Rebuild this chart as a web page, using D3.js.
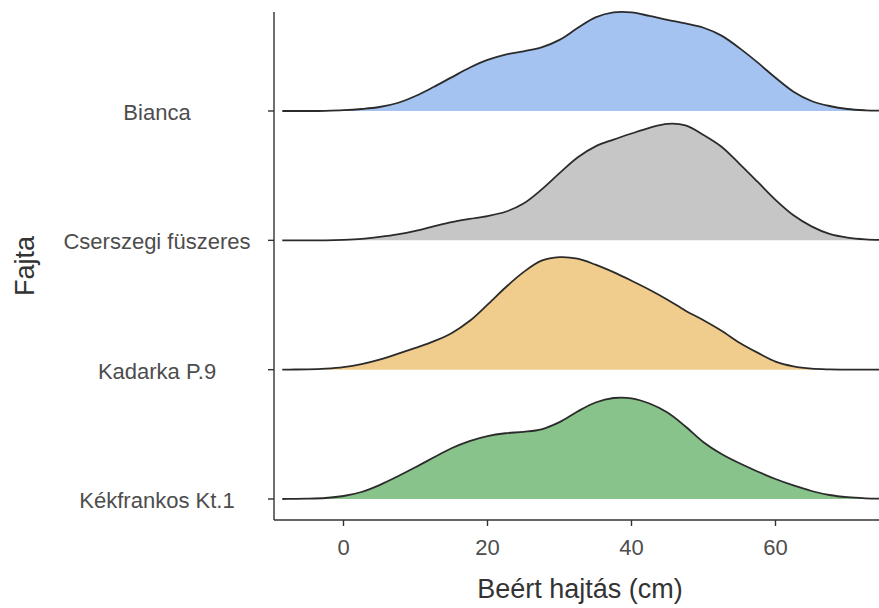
<!DOCTYPE html>
<html>
<head>
<meta charset="utf-8">
<script src="https://cdn.jsdelivr.net/npm/d3@7"></script>
<style>
  body { margin: 0; background: #fff; }
  text { font-family: "Liberation Sans", Arial, sans-serif; }
</style>
</head>
<body>
<svg id="chart"></svg>
<script>
// Fajták (felülről lefelé)
var cultivars = ["Bianca", "Cserszegi füszeres", "Kadarka P.9", "Kékfrankos Kt.1"];

// x rács (cm)
var xGrid = [-8.5, -7.5, -5, -2.5, 0, 2.5, 5, 7.5, 10, 12.5, 15, 17.5, 20, 22.5, 25, 27.5, 30,
  32.5, 35, 37.5, 40, 42.5, 45, 47.5, 50, 52.5, 55, 57.5, 60, 62.5, 65, 67.5, 70, 72.5, 75, 77.5, 80];

// sűrűség (x 0.001)
var densBianca = [0, 0, 0, 0.06, 0.22, 0.56, 1.12, 2.24, 4.2, 6.7, 9.4, 12.1, 14.3, 15.8, 16.7, 17.8, 19.9,
  23.2, 26.2, 27.6, 27.6, 26.6, 25.5, 24.5, 23.3, 21.1, 17.6, 13.6, 9.3, 5.4, 2.8, 1.4, 0.56, 0.2, 0.06, 0.02, 0];
var densCserszegi = [0, 0, 0, 0, 0.14, 0.42, 0.98, 1.68, 2.66, 3.9, 5.1, 6.0, 6.8, 8.0, 10.3, 14.2, 18.8,
  23.2, 26.3, 28.2, 29.9, 31.5, 32.6, 32.18, 29.5, 26.2, 21.4, 16.4, 11.33, 7.0, 3.92, 1.82, 0.78, 0.28, 0.08, 0.02, 0];
var densKadarka = [0, 0.03, 0.08, 0.28, 0.7, 1.54, 2.8, 4.4, 6.1, 7.9, 10.2, 13.6, 18.2, 23.0, 27.3, 30.5, 31.5,
  31.06, 29.38, 27.28, 24.9, 22.38, 19.59, 16.51, 13.85, 10.91, 7.55, 4.76, 2.24, 0.92, 0.28, 0.08, 0.03, 0, 0, 0, 0];
var densKekfrankos = [0, 0.03, 0.08, 0.28, 0.84, 1.96, 3.9, 6.3, 8.9, 11.6, 14.2, 16.2, 17.6, 18.4, 18.8, 19.5, 21.5,
  24.48, 27.0, 28.26, 28.18, 26.72, 24.2, 20.3, 15.9, 12.6, 10.0, 7.7, 5.6, 3.8, 2.24, 1.12, 0.5, 0.2, 0.06, 0.02, 0];

var colors = ["#a4c3f0", "#c6c6c6", "#f1cd8d", "#87c38a"];
var xTicks = [0, 20, 40, 60];

var allDens = [densBianca, densCserszegi, densKadarka, densKekfrankos];

var width = 879, height = 608;
var svg = d3.select("#chart").attr("width", width).attr("height", height);

// skálák
var x = d3.scaleLinear().domain([0, 60]).range([343.5, 775.5]);
var y = d3.scalePoint().domain(cultivars).range([111, 499]);
var h = d3.scaleLinear().domain([0, 30]).range([0, 107.2]);

var panelLeft = 274, panelTop = 12, panelBottom = 520;
var curve = d3.curveCatmullRom.alpha(0.5);

// gerincek
cultivars.forEach(function(name, i) {
  var pts = xGrid.map(function(v, j) { return [v, allDens[i][j]]; });
  var base = y(name);
  var top = function(d) { return Math.min(base, base - h(d[1])); };
  var area = d3.area()
    .curve(curve)
    .x(function(d) { return x(d[0]); })
    .y0(base)
    .y1(top);
  var line = d3.line()
    .curve(curve)
    .x(function(d) { return x(d[0]); })
    .y(top);

  svg.append("path").attr("d", area(pts)).attr("fill", colors[i]);
  svg.append("path").attr("d", line(pts))
    .attr("fill", "none")
    .attr("stroke", "#2b2b2b")
    .attr("stroke-width", 1.8);
});

// tengelyek
svg.append("line")
  .attr("x1", panelLeft).attr("x2", panelLeft)
  .attr("y1", panelTop).attr("y2", panelBottom)
  .attr("stroke", "#333").attr("stroke-width", 1.4);
svg.append("line")
  .attr("x1", panelLeft).attr("x2", width)
  .attr("y1", panelBottom).attr("y2", panelBottom)
  .attr("stroke", "#333").attr("stroke-width", 1.4);

// x tick-ek
xTicks.forEach(function(t) {
  svg.append("line")
    .attr("x1", x(t)).attr("x2", x(t))
    .attr("y1", panelBottom).attr("y2", panelBottom + 6)
    .attr("stroke", "#333").attr("stroke-width", 1.4);
  svg.append("text")
    .attr("x", x(t)).attr("y", 555)
    .attr("text-anchor", "middle")
    .attr("font-size", 22)
    .attr("fill", "#4d4d4d")
    .text(t);
});

// y tick-ek és fajtanevek
cultivars.forEach(function(name) {
  svg.append("line")
    .attr("x1", panelLeft - 6).attr("x2", panelLeft)
    .attr("y1", y(name)).attr("y2", y(name))
    .attr("stroke", "#333").attr("stroke-width", 1.4);
  svg.append("text")
    .attr("x", 157).attr("y", y(name) + 9)
    .attr("text-anchor", "middle")
    .attr("font-size", 22)
    .attr("fill", "#4d4d4d")
    .text(name);
});

// tengelycímek
svg.append("text")
  .attr("x", 580).attr("y", 598)
  .attr("text-anchor", "middle")
  .attr("font-size", 27)
  .attr("fill", "#333")
  .text("Beért hajtás (cm)");

svg.append("text")
  .attr("transform", "translate(34," + ((panelTop + panelBottom) / 2) + ") rotate(-90)")
  .attr("text-anchor", "middle")
  .attr("font-size", 27)
  .attr("fill", "#333")
  .text("Fajta");
</script>
</body>
</html>
